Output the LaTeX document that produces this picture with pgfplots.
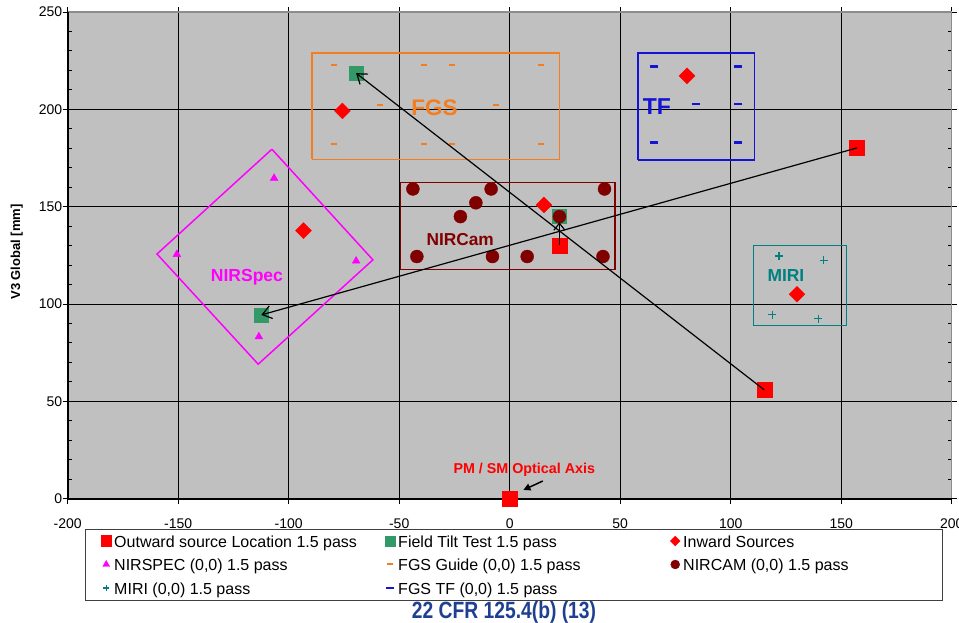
\documentclass[border=0pt]{standalone}
\usepackage{fontspec}
\setmainfont{Liberation Sans}
\usepackage{graphicx}
\usepackage{pgfplots}
\pgfplotsset{compat=1.18}
\usetikzlibrary{arrows.meta}

\definecolor{plotbg}{HTML}{C0C0C0}
\definecolor{outred}{HTML}{FF0000}
\definecolor{tiltgreen}{HTML}{339966}
\definecolor{nirspec}{HTML}{FF00FF}
\definecolor{fgsorange}{HTML}{F47D20}
\definecolor{nircam}{HTML}{800000}
\definecolor{miri}{HTML}{008080}
\definecolor{tfblue}{HTML}{1414D2}
\definecolor{cfrblue}{HTML}{1F3F91}

\pgfplotsset{
  dotleg/.style={legend image code/.code={%
      \path[draw=none, fill=none] (-6pt,0pt) -- (6pt,0pt);
      \draw[##1, only marks] plot coordinates {(0pt,0pt)};}},
}

\begin{document}
\begin{tikzpicture}
\useasboundingbox (-67.7pt,-123.3pt) rectangle (891.3pt,498.7pt);
\begin{axis}[
  at={(0pt,0pt)}, anchor=south west,
  scale only axis, width=884pt, height=486.7pt,
  clip=false,
  xmin=-200, xmax=200, ymin=0, ymax=250,
  xtick={-200,-150,...,200}, ytick={0,50,...,250},
  minor y tick num=4,
  axis background/.style={fill=plotbg},
  axis line style={draw=none},
  grid=major,
  major x grid style={black, line width=1.3pt},
  major y grid style={black, line width=1pt},
  xtick align=outside, ytick align=inside,
  major tick length=5pt, minor tick length=4pt,
  tick style={black, line width=1pt},
  extra y ticks={0,50,...,250}, extra y tick labels={},
  extra y tick style={tick align=outside, grid=none},
  /pgf/number format/assume math mode=true,
  ticklabel style={font=\fontsize{14}{16}\selectfont},
  yticklabel style={xshift=-2pt},
  xticklabel style={yshift=-11pt},
  ylabel={V3 Global [mm]},
  ylabel style={at={(axis description cs:-0.0577,0.507)}, anchor=center,
    font=\bfseries\fontsize{13}{15}\selectfont},
  legend columns=3,
  legend cell align=left,
  legend style={at={(axis description cs:0.0196,-0.0623)}, anchor=north west,
    draw=black!75, fill=white, inner xsep=15pt, inner ysep=0pt,
    font=\fontsize{16}{19}\selectfont, /tikz/column sep=0pt,
    nodes={inner xsep=2pt, inner ysep=3.75pt, text height=14.5pt, text depth=1.5pt}},
]
% border lines
\draw[black!45, line width=1.3pt] (rel axis cs:0,1) -- (rel axis cs:1,1) -- (rel axis cs:1,0);
\draw[black, line width=2pt] (rel axis cs:0,1) -- (rel axis cs:0,0) -- (rel axis cs:1,0);

% instrument boxes
\addplot[fgsorange, line width=1.3pt, forget plot] coordinates {(-89.4,174.4) (22.5,174.4) (22.5,228.9) (-89.4,228.9) (-89.4,174.4)};
\addplot[tfblue, line width=1.3pt, forget plot] coordinates {(58,174) (110.8,174) (110.8,228.9) (58,228.9) (58,174)};
\addplot[nircam, line width=1.3pt, forget plot] coordinates {(-49.5,117.9) (47.7,117.9) (47.7,162.6) (-49.5,162.6) (-49.5,117.9)};
\addplot[miri, line width=1.3pt, forget plot] coordinates {(110.3,88.8) (152.3,88.8) (152.3,129.9) (110.3,129.9) (110.3,88.8)};
\addplot[nirspec, line width=1.5pt, forget plot] coordinates {(-107.6,179.5) (-61.9,122.7) (-113.8,69.1) (-159.6,125.7) (-107.6,179.5)};

\addplot[only marks, mark=square*, color=outred, mark size=7.5pt, dotleg,
  legend image post style={mark size=5.3pt}]
  coordinates {(0,0) (157.2,180.2) (115.2,55.9) (22.5,130.2)};
\addlegendentry{\makebox[268pt][l]{Outward source Location 1.5 pass}}

\addplot[only marks, mark=square*, color=tiltgreen, mark size=7pt, dotleg,
  legend image post style={mark size=5pt}]
  coordinates {(-69.5,218.6) (-112.4,94.4) (22.5,144.9)};
\addlegendentry{\makebox[269pt][l]{Field Tilt Test 1.5 pass}}

\addplot[only marks, mark=square*, mark options={rotate=45}, color=outred, mark size=5.6pt, dotleg,
  legend image post style={mark size=3.4pt}]
  coordinates {(-75.7,199.2) (15.5,150.9) (-93.3,137.7) (80.2,217.2) (130,105)};
\addlegendentry{\makebox[242pt][l]{Inward Sources}}

\addplot[only marks, mark=triangle*, color=nirspec, mark size=4.5pt, dotleg,
  legend image post style={mark size=4pt}]
  coordinates {(-106.6,164.6) (-150.6,125.5) (-69.5,122.1) (-113.5,83.2)};
\addlegendentry{NIRSPEC (0,0) 1.5 pass}

\addplot[only marks, mark=-, color=fgsorange, mark size=3pt, line width=2pt, dotleg,
  legend image post style={mark size=3pt}]
  coordinates {(-79.3,222.9) (-39,222.9) (-25.9,222.9) (14.1,222.9)
               (-58.9,202.3) (-6.2,202.3)
               (-79.3,182.1) (-39,182.1) (-25.9,182.1) (14.1,182.1)};
\addlegendentry{FGS Guide (0,0) 1.5 pass}

\addplot[only marks, mark=*, color=nircam, mark size=6.5pt, dotleg,
  legend image post style={mark size=4.5pt}]
  coordinates {(-43.8,159.1) (-8.4,159.1) (42.9,159.1) (-15.3,152) (-22.3,144.9)
               (22.5,144.9) (-42,124.4) (-7.8,124.4) (7.9,124.4) (42.2,124.4)};
\addlegendentry{NIRCAM (0,0) 1.5 pass}

\addplot[only marks, mark=+, color=miri, mark size=4pt, line width=1.3pt, dotleg,
  legend image post style={mark size=3pt}]
  coordinates {(121.9,124.7) (142,122.5) (118.9,94.6) (139.7,92.5)};
\addlegendentry{MIRI (0,0) 1.5 pass}

\addplot[only marks, mark=-, color=tfblue, mark size=4pt, line width=2.6pt, dotleg,
  legend image post style={mark size=4pt}]
  coordinates {(65.1,222) (103.5,222) (84.4,202.7) (103.5,202.7) (65.1,182.9) (103.5,182.9)};
\addlegendentry{FGS TF (0,0) 1.5 pass}

% arrow end points (drawn after the axis so they sit on top of the markers)
\coordinate (a1s) at (axis cs:115.2,55.9);  \coordinate (a1e) at (axis cs:-69.5,218.6);
\coordinate (a2s) at (axis cs:157.2,180.2); \coordinate (a2e) at (axis cs:-112.4,94.4);
\coordinate (a3s) at (axis cs:22.5,130.2);  \coordinate (a3e) at (axis cs:22.5,142);
\coordinate (a4s) at (axis cs:15,9.1);      \coordinate (a4e) at (axis cs:6.2,4.5);

% labels
\node[text=fgsorange, inner sep=0pt, font=\bfseries\fontsize{22.5}{24}\selectfont] at (axis cs:-34,200.9) {FGS};
\node[text=tfblue, inner sep=0pt, font=\bfseries\fontsize{23}{25}\selectfont] at (axis cs:66.6,201.4) {TF};
\node[text=nircam, inner sep=0pt, font=\bfseries\fontsize{17.3}{19}\selectfont] at (axis cs:-22.4,133.3) {NIRCam};
\node[text=nirspec, inner sep=0pt, font=\bfseries\fontsize{17.5}{19}\selectfont] at (axis cs:-118.9,114) {NIRSpec};
\node[text=miri, inner sep=0pt, font=\bfseries\fontsize{17.4}{19}\selectfont] at (axis cs:125,114.4) {MIRI};
\node[text=outred, inner sep=0pt, font=\bfseries\fontsize{14.3}{16}\selectfont] at (axis cs:6.6,14.7) {PM / SM Optical Axis};
\end{axis}
\draw[black, line width=1.2pt, -{Straight Barb[length=9pt,width=13pt]}] (a1s) -- (a1e);
\draw[black, line width=1.2pt, -{Straight Barb[length=9pt,width=13pt]}] (a2s) -- (a2e);
\draw[black, line width=1.2pt, -{Straight Barb[length=7pt,width=11pt]}] (a3s) -- (a3e);
\draw[black, line width=1.5pt, -{Triangle[length=7pt,width=7pt]}] (a4s) -- (a4e);
\node[anchor=base, text=cfrblue, inner sep=0pt, font=\bfseries\fontsize{23.5}{26}\selectfont]
  at (436.3pt,-119.8pt) {\scalebox{0.82}[1]{22 CFR 125.4(b) (13)}};
\end{tikzpicture}
\end{document}
